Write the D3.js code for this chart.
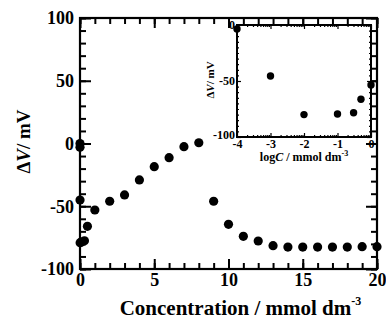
<!DOCTYPE html>
<html>
<head>
<meta charset="utf-8">
<script src="https://cdn.jsdelivr.net/npm/d3@7"></script>
<style>
  body { margin: 0; background: #fff; }
  svg text { font-family: "Liberation Serif", "Times New Roman", "DejaVu Serif", serif; font-weight: bold; }
  .axis path.domain { display: none; }
  .axis line { stroke: #000; }
</style>
</head>
<body>
<div id="chart"></div>
<script>
// main plot: potential change vs concentration
const concentration = [0, 0.0001, 0.001, 0.01, 0.1, 0.3, 0.5, 1, 2, 3, 4, 5, 6, 7, 8,
  9, 10, 11, 12, 13, 14, 15, 16, 17, 18, 19, 20];
const deltaV = [0, -3, -45, -79, -78.5, -77.5, -66, -53, -46, -41, -29, -18.5, -11.3, -2.5, 0.6,
  -46, -64.4, -74, -77.7, -81.4, -82.5, -82.5, -82.5, -82.5, -82.5, -82.2, -82.2];

// inset: same data on a log scale
const logC = [-4, -3, -2, -1, -0.52, -0.3, 0];
const insetV = [-3.5, -45.5, -80, -79.5, -78.3, -66.3, -53.6];

const xTicks = [0, 5, 10, 15, 20];
const yTicks = [-100, -50, 0, 50, 100];
const insetXTicks = [-4, -3, -2, -1, 0];
const insetYTicks = [-100, -50, 0];

const width = 386, height = 323;
const margin = {top: 18, right: 9, bottom: 54, left: 80};

const svg = d3.select('#chart').append('svg')
  .attr('width', width)
  .attr('height', height);

const x = d3.scaleLinear().domain([0, 20]).range([margin.left, width - margin.right]);
const y = d3.scaleLinear().domain([-100, 100]).range([height - margin.bottom, margin.top]);
const fmt = d => String(d);

// minor ticks first, then major ticks with labels
function addAxis(g, axisFn, scale, major, minor, bigLen, smallLen, withLabels, fontSize, pad) {
  g.append('g').attr('class', 'axis')
    .call(axisFn(scale).tickValues(minor).tickSize(-smallLen).tickFormat(''));
  const a = g.append('g').attr('class', 'axis')
    .call(axisFn(scale).tickValues(major).tickSize(-bigLen).tickPadding(pad)
      .tickFormat(withLabels ? fmt : ''));
  g.selectAll('.axis').attr('font-family', null).attr('font-size', fontSize);
  a.selectAll('text').attr('fill', '#000');
  return a;
}

const x0 = margin.left, x1 = width - margin.right;
const y0 = height - margin.bottom, y1 = margin.top;

const main = svg.append('g');
const bottomG = main.append('g').attr('transform', `translate(0,${y0})`);
addAxis(bottomG, d3.axisBottom, x, xTicks, d3.range(0, 21), 10, 6, true, 18, 4);
const topG = main.append('g').attr('transform', `translate(0,${y1})`);
addAxis(topG, d3.axisTop, x, xTicks, d3.range(0, 21), 10, 6, false, 18, 4);
const leftG = main.append('g').attr('transform', `translate(${x0},0)`);
addAxis(leftG, d3.axisLeft, y, yTicks, d3.range(-100, 101, 10), 11, 6, true, 18, 6);
const rightG = main.append('g').attr('transform', `translate(${x1},0)`);
addAxis(rightG, d3.axisRight, y, yTicks, d3.range(-100, 101, 10), 11, 6, false, 18, 4);

main.selectAll('.axis line').attr('stroke-width', 2);

main.append('rect')
  .attr('x', x0).attr('y', y1)
  .attr('width', x1 - x0).attr('height', y0 - y1)
  .attr('fill', 'none').attr('stroke', '#000').attr('stroke-width', 2.2);

main.selectAll('circle.pt')
  .data(concentration.map((c, i) => [c, deltaV[i]]))
  .join('circle')
  .attr('class', 'pt')
  .attr('cx', d => x(d[0]))
  .attr('cy', d => y(d[1]))
  .attr('r', 4.6)
  .attr('fill', '#000');

// axis titles
const xt = svg.append('text')
  .attr('x', (x0 + x1) / 2 + 12)
  .attr('y', 315)
  .attr('text-anchor', 'middle')
  .attr('font-size', 21);
xt.append('tspan').text('Concentration / mmol dm');
xt.append('tspan').attr('font-size', 12).attr('dy', -10).text('-3');

const yt = svg.append('text')
  .attr('transform', `translate(30,${(y0 + y1) / 2 - 2}) rotate(-90)`)
  .attr('text-anchor', 'middle')
  .attr('font-size', 19);
yt.append('tspan').text('\u0394');
yt.append('tspan').attr('font-style', 'italic').text('V');
yt.append('tspan').text('/ mV');

// inset
const ix = d3.scaleLinear().domain([-4, 0]).range([237, 371]);
const iy = d3.scaleLinear().domain([-100, 0]).range([137, 25]);
const inset = svg.append('g');

inset.append('rect')
  .attr('x', 237).attr('y', 25).attr('width', 134).attr('height', 112)
  .attr('fill', '#fff');

const logMinor = [];
for (let dec = -4; dec < 0; dec++) {
  for (let k = 2; k <= 9; k++) logMinor.push(dec + Math.log10(k));
}

const ib = inset.append('g').attr('transform', 'translate(0,137)');
addAxis(ib, d3.axisBottom, ix, insetXTicks, logMinor, 4, 2, true, 12, 2);
const itop = inset.append('g').attr('transform', 'translate(0,25)');
addAxis(itop, d3.axisTop, ix, insetXTicks, logMinor, 4, 2, false, 12, 1);
const il = inset.append('g').attr('transform', 'translate(237,0)');
addAxis(il, d3.axisLeft, iy, insetYTicks, d3.range(-100, 1, 5), 4, 2, true, 12, 2);
const ir = inset.append('g').attr('transform', 'translate(371,0)');
addAxis(ir, d3.axisRight, iy, insetYTicks, d3.range(-100, 1, 5), 4, 2, false, 12, 2);
inset.selectAll('.axis line').attr('stroke-width', 1.2);
// keep the "-100" label clear of the "-4" label below it
il.selectAll('text').filter(d => d === -100).attr('dy', '0.1em');

inset.append('rect')
  .attr('x', 237).attr('y', 25).attr('width', 134).attr('height', 112)
  .attr('fill', 'none').attr('stroke', '#000').attr('stroke-width', 2);

inset.selectAll('circle.ipt')
  .data(logC.map((c, i) => [c, insetV[i]]))
  .join('circle')
  .attr('class', 'ipt')
  .attr('cx', d => ix(d[0]))
  .attr('cy', d => iy(d[1]))
  .attr('r', 3.7)
  .attr('fill', '#000');

const ixt = inset.append('text')
  .attr('x', 304).attr('y', 161)
  .attr('text-anchor', 'middle')
  .attr('font-size', 12);
ixt.append('tspan').text('log');
ixt.append('tspan').attr('font-style', 'italic').text('C');
ixt.append('tspan').text(' / mmol dm');
ixt.append('tspan').attr('font-size', 8).attr('dy', -5).text('-3');

const iyt = inset.append('text')
  .attr('transform', 'translate(214,80) rotate(-90)')
  .attr('text-anchor', 'middle')
  .attr('font-size', 11);
iyt.append('tspan').text('\u0394');
iyt.append('tspan').attr('font-style', 'italic').text('V');
iyt.append('tspan').text('/ mV');
</script>
</body>
</html>
